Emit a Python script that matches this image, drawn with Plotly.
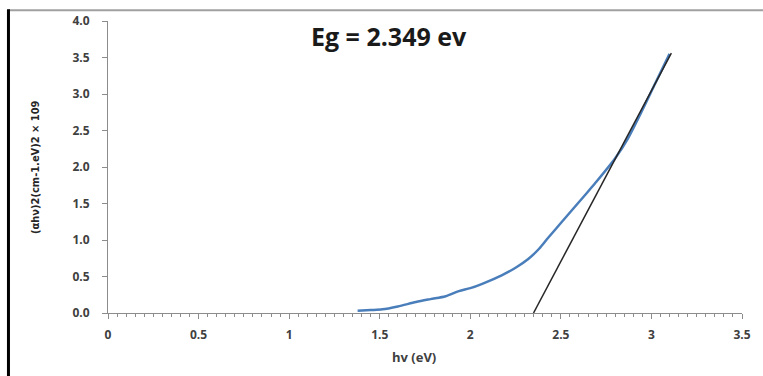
import plotly.graph_objects as go

# Measured curve (photon energy vs (alpha h nu)^2)
hv = [1.378, 1.45, 1.515, 1.60, 1.70, 1.78, 1.864, 1.937, 2.00, 2.066, 2.176, 2.25, 2.32, 2.38, 2.43,
      2.506, 2.635, 2.69, 2.80, 2.87, 2.946, 3.02, 3.10]
alpha_hv2 = [0.03, 0.04, 0.05, 0.09, 0.15, 0.19, 0.23, 0.30, 0.34, 0.40, 0.52, 0.62, 0.74, 0.88, 1.03,
             1.25, 1.62, 1.78, 2.12, 2.39, 2.76, 3.14, 3.55]

# Tangent (extrapolation) line
tangent_x = [2.349, 3.11]
tangent_y = [0.0, 3.56]

x_ticks = [0, 0.5, 1, 1.5, 2, 2.5, 3, 3.5]
x_tick_labels = ["0", "0.5", "1", "1.5", "2", "2.5", "3", "3.5"]
y_ticks = [0, 0.5, 1, 1.5, 2, 2.5, 3, 3.5, 4]
y_tick_labels = ["0.0", "0.5", "1.0", "1.5", "2.0", "2.5", "3.0", "3.5", "4.0"]

fig = go.Figure()
fig.add_trace(go.Scatter(x=hv, y=alpha_hv2, mode="lines",
                         line=dict(color="#4a7ebb", width=2.5, shape="spline", smoothing=0.8),
                         showlegend=False, hoverinfo="skip"))
fig.add_trace(go.Scatter(x=tangent_x, y=tangent_y, mode="lines",
                         line=dict(color="#262626", width=1.5),
                         showlegend=False, hoverinfo="skip"))

tick_font = dict(family="'Open Sans', Lato, sans-serif", size=12, color="#404040", weight="bold")

fig.update_layout(
    width=763, height=376,
    margin=dict(l=108, r=19, t=21, b=63),
    paper_bgcolor="white", plot_bgcolor="white",
    xaxis=dict(range=[0, 3.5], tickvals=x_ticks, ticktext=x_tick_labels,
               showgrid=False, zeroline=False, showline=True, linecolor="#8c8c8c", linewidth=1,
               ticks="outside", ticklen=5, tickcolor="#8c8c8c", tickfont=tick_font,
               ticklabelstandoff=6,
               minor=dict(dtick=0.05, ticks="outside", ticklen=3, tickcolor="#8c8c8c"),
               fixedrange=True),
    yaxis=dict(range=[0, 4], tickvals=y_ticks, ticktext=y_tick_labels,
               showgrid=False, zeroline=False, showline=True, linecolor="#8c8c8c", linewidth=1,
               ticks="outside", ticklen=5, tickcolor="#8c8c8c", tickfont=tick_font,
               ticklabelstandoff=10,
               fixedrange=True),
    annotations=[
        dict(text="<b>Eg = 2.349 ev</b>", xref="paper", yref="paper", x=0.443, y=0.948,
             showarrow=False, font=dict(family="'Open Sans', Lato, sans-serif", size=25, color="#1a1a1a"),
             xanchor="center", yanchor="middle"),
        dict(text="<b>hv (eV)</b>", xref="paper", yref="paper", x=0.483, y=-0.149,
             showarrow=False, font=dict(family="'Open Sans', Lato, sans-serif", size=13, color="#404040"),
             xanchor="center", yanchor="middle"),
        dict(text="<b>(αhν)2(cm-1.eV)2 × 109</b>", xref="paper", yref="paper", x=-0.115, y=0.5,
             textangle=-90, showarrow=False,
             font=dict(family="'Liberation Sans Narrow', 'DejaVu Sans Condensed', sans-serif", size=11, color="#262626"),
             xanchor="center", yanchor="middle"),
    ],
    shapes=[
        dict(type="line", xref="paper", yref="paper", x0=-0.157, x1=1.04, y0=1.0366, y1=1.0366,
             line=dict(color="#a0a0a0", width=2)),
        dict(type="line", xref="paper", yref="paper", x0=-0.157, x1=-0.157, y0=1.04, y1=-0.25,
             line=dict(color="#000000", width=3)),
    ],
)

fig.write_html("out.html", config={"displayModeBar": False},
               post_script="document.body.style.margin='0';")
